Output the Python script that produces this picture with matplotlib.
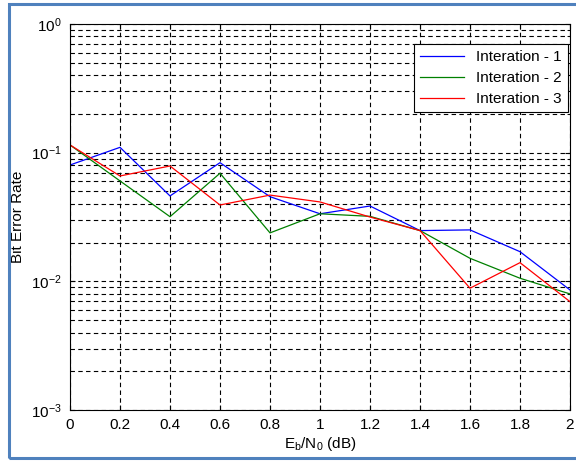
import numpy as np
import matplotlib.pyplot as plt
from matplotlib.patches import Rectangle

plt.rcParams['font.family'] = ['Liberation Sans', 'DejaVu Sans']
plt.rcParams['mathtext.fontset'] = 'custom'
plt.rcParams['mathtext.rm'] = 'Liberation Sans'
plt.rcParams['mathtext.it'] = 'Liberation Sans'
plt.rcParams['axes.unicode_minus'] = False

ebn0 = [0.0, 0.2, 0.4, 0.6, 0.8, 1.0, 1.2, 1.4, 1.6, 1.8, 2.0]
ber_it1 = [0.0802, 0.110, 0.0461, 0.0836, 0.0455, 0.0335, 0.0385, 0.0248, 0.0251, 0.0170, 0.00857]
ber_it2 = [0.1148, 0.0603, 0.0318, 0.0692, 0.0238, 0.0335, 0.0320, 0.0248, 0.0151, 0.01057, 0.00798]
ber_it3 = [0.1148, 0.0659, 0.0788, 0.0392, 0.0468, 0.0414, 0.0316, 0.0248, 0.00884, 0.01397, 0.00695]
labels = ['Interation - 1', 'Interation - 2', 'Interation - 3']

fig = plt.figure(figsize=(5.76, 4.62), dpi=100)
ax = fig.add_axes([70/576, 1 - 410/462, 500/576, 386/462])

ax.semilogy(ebn0, ber_it1, color='#0000ff', lw=0.9, label=labels[0])
ax.semilogy(ebn0, ber_it2, color='#008000', lw=0.9, label=labels[1])
ax.semilogy(ebn0, ber_it3, color='#ff0000', lw=0.9, label=labels[2])

ax.set_xlim(0, 2)
ax.set_ylim(1e-3, 1)
ax.set_xticks(np.arange(0, 2.01, 0.2))
ax.set_xticklabels(['0', '0.2', '0.4', '0.6', '0.8', '1', '1.2', '1.4', '1.6', '1.8', '2'])
ax.grid(True, which='major', ls=(0, (4, 3)), color='black', lw=0.8)
ax.grid(True, which='minor', axis='y', ls=(0, (4, 3)), color='black', lw=0.8)
ax.tick_params(which='both', direction='in', top=True, right=True, labelsize=11, pad=6)
for s in ax.spines.values():
    s.set_linewidth(0.8)

ax.set_xlabel(r'E$_\mathregular{b}$/N$_\mathregular{0}$ (dB)', fontsize=11, labelpad=2)
ax.set_ylabel('Bit Error Rate', fontsize=11, labelpad=4)

leg = ax.legend(loc='upper right', bbox_to_anchor=(0.996, 0.948), borderaxespad=0,
                fontsize=11, fancybox=False, edgecolor='black', framealpha=1,
                handlelength=2.9, borderpad=0.4, labelspacing=0.45)
leg.get_frame().set_linewidth(0.8)

# blue frame around the figure (right edge cropped)
fig.patches.append(Rectangle((9/576, 4/462), 600/576, 454/462, transform=fig.transFigure,
                             fill=False, edgecolor='#4f81bd', lw=2.2))

fig.savefig('out.png', dpi=100)
